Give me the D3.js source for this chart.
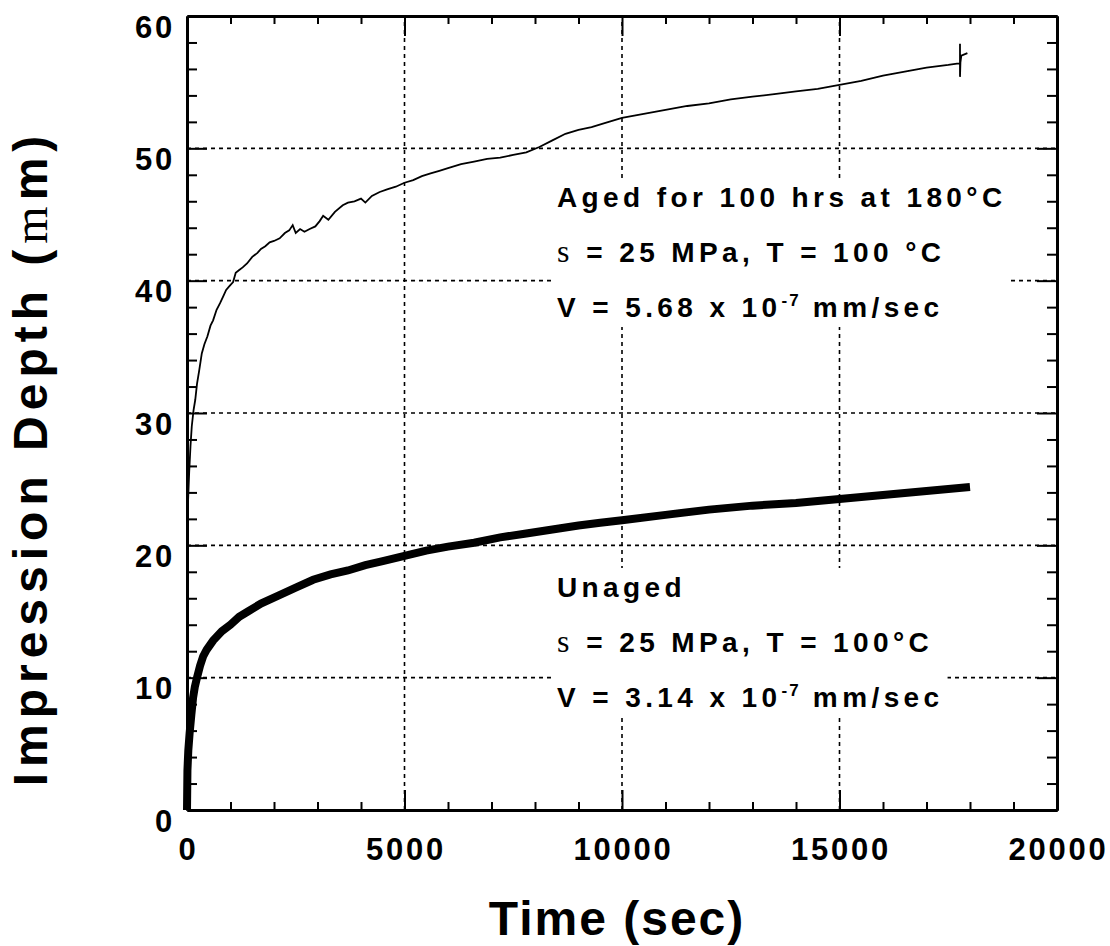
<!DOCTYPE html>
<html>
<head>
<meta charset="utf-8">
<script src="https://cdn.jsdelivr.net/npm/d3@7"></script>
<style>
  body { margin: 0; background: #fff; }
  text { font-family: "Liberation Sans", Arial, sans-serif; font-weight: bold; fill: #000; }
</style>
</head>
<body>
<div class="chart_wrapper"></div>
<script>
// time (sec) and impression depth (um)
const agedTime = [0, 20, 50, 80, 110, 150, 190, 230, 280, 340, 400, 470, 540, 600, 680, 760, 830, 900, 980, 1060,
  1120, 1200, 1280, 1380, 1500, 1620, 1700, 1800, 1900, 2000, 2130, 2250, 2350, 2430, 2500, 2600, 2700, 2820, 2950, 3050,
  3130, 3250, 3400, 3580, 3700, 3850, 4000, 4100, 4250, 4430, 4600, 4800, 5000, 5200, 5400, 5600, 5800, 6000, 6300, 6600,
  6900, 7200, 7500, 7800, 8100, 8400, 8700, 9000, 9300, 9600, 10000, 10500, 11000, 11500, 12000, 12500, 13000, 13500, 14000, 14500,
  15000, 15500, 16000, 16500, 17000, 17500, 17700, 17770, 17770, 17770, 17780, 17800, 17940]
const agedDepth = [20.2, 23, 25.5, 27.5, 29, 30.2, 31, 32.2, 33.2, 34.5, 35.2, 35.8, 36.6, 37.0, 37.8, 38.3, 38.8, 39.3, 39.6, 39.9,
  40.6, 40.8, 41.0, 41.3, 41.8, 42.1, 42.4, 42.6, 42.9, 43.0, 43.2, 43.6, 43.8, 44.2, 43.6, 43.9, 43.7, 43.9, 44.1, 44.5,
  44.9, 44.6, 45.2, 45.7, 45.9, 46.0, 46.2, 45.9, 46.4, 46.7, 46.9, 47.1, 47.4, 47.6, 47.9, 48.1, 48.3, 48.5, 48.8, 49.0,
  49.2, 49.3, 49.5, 49.7, 50.1, 50.6, 51.1, 51.4, 51.6, 51.9, 52.3, 52.6, 52.9, 53.2, 53.4, 53.7, 53.9, 54.1, 54.3, 54.5,
  54.8, 55.1, 55.5, 55.8, 56.1, 56.3, 56.4, 56.4, 57.9, 55.4, 56.5, 57.0, 57.2]

const unagedTime = [0, 10, 30, 60, 100, 140, 180, 230, 300, 370, 450, 600, 800, 1000, 1200, 1400, 1700, 2100, 2500, 2900,
  3300, 3700, 4100, 4500, 5000, 5500, 6000, 6600, 7200, 7800, 8400, 9000, 9500, 10000, 11000, 12000, 13000, 14000, 15000, 16000,
  17000, 18000]
const unagedDepth = [0, 3, 4.5, 5.8, 7.2, 8.5, 9.3, 10.0, 10.9, 11.6, 12.1, 12.8, 13.5, 14.0, 14.6, 15.0, 15.6, 16.2, 16.8, 17.4,
  17.8, 18.1, 18.5, 18.8, 19.2, 19.6, 19.9, 20.2, 20.6, 20.9, 21.2, 21.5, 21.7, 21.9, 22.3, 22.7, 23.0, 23.2, 23.5, 23.8,
  24.1, 24.4]

const xTickLabels = [0, 5000, 10000, 15000, 20000]
const yTickLabels = [0, 10, 20, 30, 40, 50, 60]

const agedLines = ["Aged for 100 hrs at 180°C", "= 25 MPa, T = 100 °C", "V = 5.68 x 10"]
const unagedLines = ["Unaged", "= 25 MPa, T = 100°C", "V = 3.14 x 10"]

const width = 1110, height = 946
const margin = {top: 16, right: 53, bottom: 136, left: 187}

const svg = d3.select(".chart_wrapper")
  .append("svg")
    .attr("width", width)
    .attr("height", height)

const xScale = d3.scaleLinear()
  .domain([0, 20000])
  .range([margin.left, width - margin.right])

const yScale = d3.scaleLinear()
  .domain([0, 60])
  .range([height - margin.bottom, margin.top])

const xMajor = [5000, 10000, 15000]
const xMinor = d3.range(1000, 20000, 1000).filter(d => d % 5000 != 0)
const yMajor = [10, 20, 30, 40, 50]
const yMinor = d3.range(2, 60, 2).filter(d => d % 10 != 0)

// dashed grid
svg.selectAll("xgrid")
  .data(xMajor)
  .enter()
  .append("line")
    .attr("x1", d => xScale(d))
    .attr("x2", d => xScale(d))
    .attr("y1", yScale(0))
    .attr("y2", yScale(60))
    .attr("stroke", "black")
    .attr("stroke-width", 1.6)
    .attr("stroke-dasharray", "4,4")

svg.selectAll("ygrid")
  .data(yMajor)
  .enter()
  .append("line")
    .attr("x1", xScale(0))
    .attr("x2", xScale(20000))
    .attr("y1", d => yScale(d))
    .attr("y2", d => yScale(d))
    .attr("stroke", "black")
    .attr("stroke-width", 1.6)
    .attr("stroke-dasharray", "4,4")

// annotation blocks with white backing
function note (lines, x0, y0) {
  const g = svg.append("g")
  const bg = g.append("rect").attr("fill", "white")
  const t1 = g.append("text")
    .attr("x", x0).attr("y", y0)
    .attr("font-size", 28)
    .attr("letter-spacing", 4.4)
    .text(lines[0])
  const t2 = g.append("text")
    .attr("x", x0).attr("y", y0 + 55)
    .attr("font-size", 28)
    .attr("letter-spacing", 4.4)
  t2.append("tspan")
    .style("font-family", "'Liberation Serif', 'Times New Roman', serif")
    .style("font-weight", "normal")
    .attr("font-size", 32)
    .text("s ")
  t2.append("tspan").text(lines[1])
  const t3 = g.append("text")
    .attr("x", x0).attr("y", y0 + 110)
    .attr("font-size", 28)
    .attr("letter-spacing", 4.4)
  t3.append("tspan").text(lines[2])
  t3.append("tspan").attr("font-size", 17).attr("dy", -11).attr("letter-spacing", 2).text("-7")
  t3.append("tspan").attr("dy", 11).text(" mm/sec")
  const b = g.node().getBBox()
  bg.attr("x", b.x - 4).attr("y", b.y - 4)
    .attr("width", b.width + 8).attr("height", b.height + 8)
}
note(agedLines, 557, 207)
note(unagedLines, 557, 597)

// curves
const line = d3.line()
  .x(d => xScale(d[0]))
  .y(d => yScale(d[1]))

svg.append("path")
  .datum(unagedTime.map((t, i) => [t, unagedDepth[i]]))
  .attr("d", line)
  .attr("fill", "none")
  .attr("stroke", "black")
  .attr("stroke-width", 8)

svg.append("path")
  .datum(agedTime.map((t, i) => [t, agedDepth[i]]))
  .attr("d", line)
  .attr("fill", "none")
  .attr("stroke", "black")
  .attr("stroke-width", 1.8)

// inward ticks on all four sides
function ticks (axis, values, size, tr) {
  const g = svg.append("g")
    .attr("transform", tr)
    .call(axis.tickValues(values).tickSize(-size).tickSizeOuter(0).tickFormat(""))
  g.select(".domain").attr("stroke-width", 3)
  g.selectAll(".tick line").attr("stroke-width", 2)
}
const bottomY = "translate(0," + yScale(0) + ")"
const topY = "translate(0," + yScale(60) + ")"
const leftX = "translate(" + xScale(0) + ",0)"
const rightX = "translate(" + xScale(20000) + ",0)"
ticks(d3.axisBottom(xScale), xMinor, 8, bottomY)
ticks(d3.axisBottom(xScale), xMajor, 20, bottomY)
ticks(d3.axisTop(xScale), xMinor, 8, topY)
ticks(d3.axisTop(xScale), xMajor, 20, topY)
ticks(d3.axisLeft(yScale), yMinor, 10, leftX)
ticks(d3.axisLeft(yScale), yMajor, 20, leftX)
ticks(d3.axisRight(yScale), yMinor, 10, rightX)
ticks(d3.axisRight(yScale), yMajor, 20, rightX)

// tick labels
const xLab = svg.append("g")
  .attr("transform", bottomY)
  .call(d3.axisBottom(xScale).tickValues(xTickLabels).tickSize(0).tickFormat(d3.format("d")))
xLab.select(".domain").remove()
xLab.selectAll("text")
  .attr("dy", null)
  .attr("y", 50)
  .attr("dx", 1)
  .attr("font-size", 31)
  .attr("letter-spacing", 2.8)
  .style("font-family", "'Liberation Sans', Arial, sans-serif")

const yLab = svg.append("g")
  .attr("transform", leftX)
  .call(d3.axisLeft(yScale).tickValues(yTickLabels).tickSize(0).tickFormat(d3.format("d")))
yLab.select(".domain").remove()
yLab.selectAll("text")
  .attr("dy", null)
  .attr("y", 21)
  .attr("x", -12)
  .attr("font-size", 31)
  .attr("letter-spacing", 2.8)
  .style("font-family", "'Liberation Sans', Arial, sans-serif")

// axis titles
svg.append("text")
  .attr("x", 617)
  .attr("y", 935)
  .attr("text-anchor", "middle")
  .attr("font-size", 48)
  .attr("letter-spacing", 2)
  .text("Time (sec)")

const yTitle = svg.append("text")
  .attr("transform", "translate(47,458) rotate(-90)")
  .attr("text-anchor", "middle")
  .attr("font-size", 48)
  .attr("letter-spacing", 6)
yTitle.append("tspan").text("Impression Depth (")
yTitle.append("tspan")
  .style("font-family", "'Liberation Serif', 'Times New Roman', serif")
  .style("font-weight", "normal")
  .text("m")
yTitle.append("tspan").text("m)")
</script>
</body>
</html>
